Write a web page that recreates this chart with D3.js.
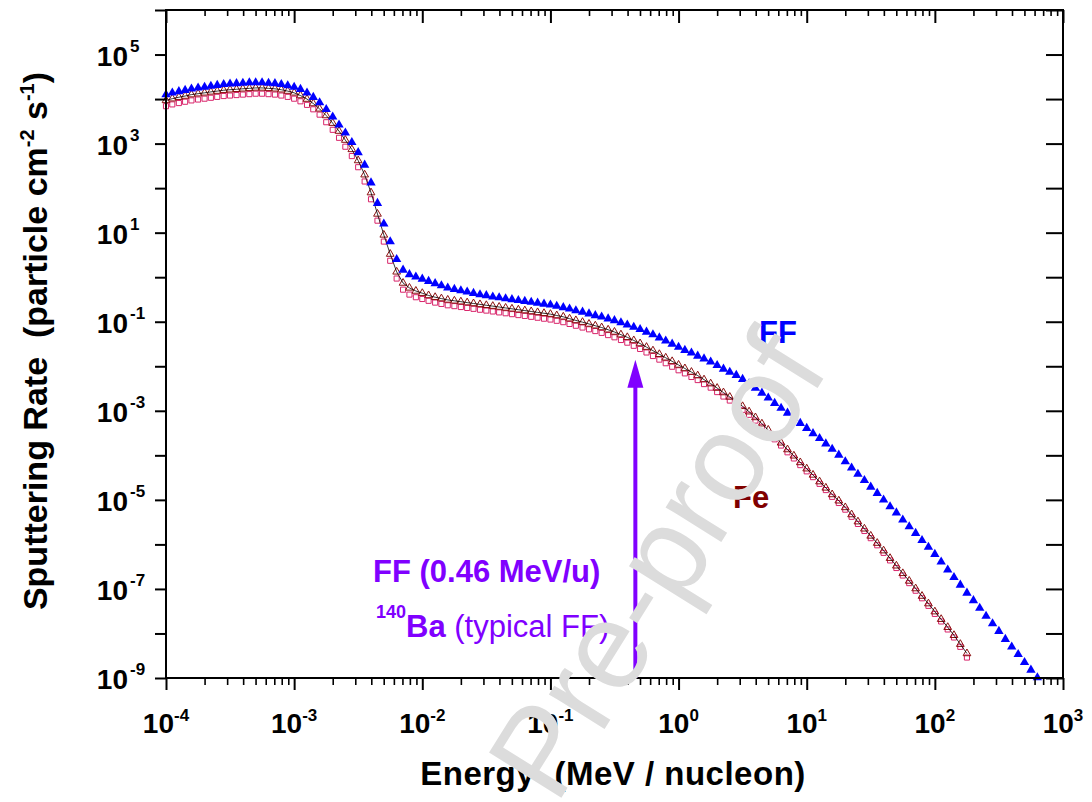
<!DOCTYPE html>
<html>
<head>
<meta charset="utf-8">
<script src="https://cdn.jsdelivr.net/npm/d3@7"></script>
<style>
  body { margin: 0; background: #fff; }
  text { font-family: "Liberation Sans", Arial, sans-serif; }
</style>
</head>
<body>
<div id="chart-area"></div>
<script>
// energy grid (MeV / nucleon), shared by all series
let energy = [
  1.00e-4, 1.12e-4, 1.26e-4, 1.41e-4, 1.58e-4, 1.78e-4, 2.00e-4, 2.24e-4, 2.51e-4, 2.82e-4,
  3.16e-4, 3.55e-4, 3.98e-4, 4.47e-4, 5.01e-4, 5.62e-4, 6.31e-4, 7.08e-4, 7.94e-4, 8.91e-4,
  1.00e-3, 1.12e-3, 1.26e-3, 1.41e-3, 1.58e-3, 1.78e-3, 2.00e-3, 2.24e-3, 2.51e-3, 2.82e-3,
  3.16e-3, 3.55e-3, 3.98e-3, 4.47e-3, 5.01e-3, 5.62e-3, 6.31e-3, 7.08e-3, 7.94e-3, 8.91e-3,
  1.00e-2, 1.12e-2, 1.26e-2, 1.41e-2, 1.58e-2, 1.78e-2, 2.00e-2, 2.24e-2, 2.51e-2, 2.82e-2,
  3.16e-2, 3.55e-2, 3.98e-2, 4.47e-2, 5.01e-2, 5.62e-2, 6.31e-2, 7.08e-2, 7.94e-2, 8.91e-2,
  1.00e-1, 1.12e-1, 1.26e-1, 1.41e-1, 1.58e-1, 1.78e-1, 2.00e-1, 2.24e-1, 2.51e-1, 2.82e-1,
  3.16e-1, 3.55e-1, 3.98e-1, 4.47e-1, 5.01e-1, 5.62e-1, 6.31e-1, 7.08e-1, 7.94e-1, 8.91e-1,
  1.00, 1.12, 1.26, 1.41, 1.58, 1.78, 2.00, 2.24, 2.51, 2.82,
  3.16, 3.55, 3.98, 4.47, 5.01, 5.62, 6.31, 7.08, 7.94, 8.91,
  10.0, 11.2, 12.6, 14.1, 15.8, 17.8, 20.0, 22.4, 25.1, 28.2,
  31.6, 35.5, 39.8, 44.7, 50.1, 56.2, 63.1, 70.8, 79.4, 89.1,
  100, 112, 126, 141, 158, 178, 200, 224, 251, 282,
  316, 355, 398, 447, 501, 562, 631
]

// FF (blue, filled triangles)
let rateFF = [
  1.26e4, 1.38e4, 1.48e4, 1.58e4, 1.70e4, 1.78e4, 1.86e4, 1.95e4, 2.04e4, 2.14e4,
  2.19e4, 2.24e4, 2.29e4, 2.34e4, 2.34e4, 2.34e4, 2.29e4, 2.24e4, 2.14e4, 2.00e4,
  1.86e4, 1.66e4, 1.38e4, 1.10e4, 8.32e3, 5.89e3, 3.98e3, 2.63e3, 1.74e3, 1.07e3,
  631, 331, 132, 45.7, 15.8, 6.31, 2.51, 1.45, 1.15, 1.02,
  0.912, 0.813, 0.724, 0.646, 0.575, 0.537, 0.501, 0.468, 0.437, 0.407,
  0.389, 0.363, 0.347, 0.331, 0.316, 0.302, 0.288, 0.275, 0.263, 0.251,
  0.240, 0.224, 0.209, 0.195, 0.178, 0.166, 0.151, 0.138, 0.129, 0.117,
  0.107, 0.0955, 0.0851, 0.0759, 0.0676, 0.0589, 0.0513, 0.0437, 0.0372, 0.0316,
  0.0269, 0.0229, 0.0200, 0.0170, 0.0148, 0.0126, 0.0105, 0.00871, 0.00741, 0.00631,
  0.00513, 0.00407, 0.00324, 0.00251, 0.00195, 0.00148, 0.00115, 8.91e-4, 6.92e-4, 5.25e-4,
  4.07e-4, 3.09e-4, 2.40e-4, 1.82e-4, 1.38e-4, 1.02e-4, 7.24e-5, 5.25e-5, 3.80e-5, 2.75e-5,
  1.95e-5, 1.41e-5, 1.00e-5, 7.08e-6, 5.13e-6, 3.55e-6, 2.51e-6, 1.78e-6, 1.23e-6, 8.71e-7,
  6.03e-7, 4.07e-7, 2.69e-7, 1.82e-7, 1.23e-7, 8.13e-8, 5.50e-8, 3.72e-8, 2.45e-8, 1.66e-8,
  1.12e-8, 7.41e-9, 5.01e-9, 3.39e-9, 2.24e-9, 1.51e-9, 1.02e-9
]

// Fe (dark red, open triangles)
let rateFeTri = [
  9.33e3, 1.02e4, 1.10e4, 1.17e4, 1.26e4, 1.32e4, 1.38e4, 1.45e4, 1.51e4, 1.58e4,
  1.62e4, 1.66e4, 1.70e4, 1.74e4, 1.78e4, 1.78e4, 1.74e4, 1.70e4, 1.62e4, 1.51e4,
  1.38e4, 1.20e4, 1.00e4, 7.94e3, 6.03e3, 4.27e3, 2.88e3, 1.91e3, 1.20e3, 741,
  417, 200, 79.4, 26.3, 8.91, 3.31, 1.32, 0.741, 0.575, 0.490,
  0.437, 0.389, 0.355, 0.331, 0.309, 0.295, 0.282, 0.269, 0.257, 0.245,
  0.234, 0.224, 0.214, 0.204, 0.195, 0.186, 0.178, 0.170, 0.162, 0.155,
  0.148, 0.138, 0.129, 0.117, 0.107, 0.0977, 0.0891, 0.0813, 0.0741, 0.0661,
  0.0589, 0.0513, 0.0447, 0.0380, 0.0324, 0.0269, 0.0224, 0.0186, 0.0155, 0.0129,
  0.0107, 0.00891, 0.00741, 0.00617, 0.00501, 0.00407, 0.00324, 0.00257, 0.00204, 0.00162,
  0.00126, 9.55e-4, 7.08e-4, 5.13e-4, 3.72e-4, 2.63e-4, 1.91e-4, 1.35e-4, 9.77e-5, 6.92e-5,
  5.01e-5, 3.63e-5, 2.57e-5, 1.86e-5, 1.32e-5, 9.55e-6, 6.76e-6, 4.68e-6, 3.24e-6, 2.24e-6,
  1.55e-6, 1.07e-6, 7.24e-7, 4.90e-7, 3.31e-7, 2.24e-7, 1.51e-7, 1.02e-7, 6.92e-8, 4.68e-8,
  3.09e-8, 2.09e-8, 1.38e-8, 9.12e-9, 5.75e-9, 3.55e-9
]

// Fe (crimson, open squares)
let rateFeSq = [
  6.92e3, 7.59e3, 8.13e3, 8.71e3, 9.33e3, 9.77e3, 1.02e4, 1.07e4, 1.12e4, 1.17e4,
  1.20e4, 1.23e4, 1.26e4, 1.29e4, 1.32e4, 1.32e4, 1.29e4, 1.26e4, 1.20e4, 1.12e4,
  1.02e4, 8.91e3, 7.41e3, 5.89e3, 4.47e3, 3.02e3, 2.04e3, 1.35e3, 851, 525,
  295, 141, 56.2, 18.6, 6.31, 2.34, 0.933, 0.525, 0.407, 0.355,
  0.324, 0.295, 0.269, 0.251, 0.234, 0.224, 0.214, 0.204, 0.195, 0.186,
  0.178, 0.170, 0.162, 0.155, 0.148, 0.141, 0.135, 0.129, 0.123, 0.117,
  0.112, 0.105, 0.0977, 0.0891, 0.0813, 0.0741, 0.0676, 0.0617, 0.0562, 0.0501,
  0.0447, 0.0389, 0.0339, 0.0288, 0.0245, 0.0204, 0.0170, 0.0141, 0.0117, 0.00977,
  0.00813, 0.00692, 0.00575, 0.00490, 0.00398, 0.00331, 0.00263, 0.00209, 0.00170, 0.00135,
  0.00105, 8.13e-4, 6.03e-4, 4.37e-4, 3.16e-4, 2.29e-4, 1.66e-4, 1.17e-4, 8.51e-5, 6.03e-5,
  4.37e-5, 3.24e-5, 2.29e-5, 1.66e-5, 1.17e-5, 8.51e-6, 6.03e-6, 4.17e-6, 2.88e-6, 2.00e-6,
  1.38e-6, 9.55e-7, 6.46e-7, 4.37e-7, 2.95e-7, 2.00e-7, 1.35e-7, 9.12e-8, 6.17e-8, 4.17e-8,
  2.75e-8, 1.86e-8, 1.23e-8, 8.13e-9, 5.01e-9, 2.88e-9
]

// axis decades
let xDecades = [-4, -3, -2, -1, 0, 1, 2, 3]
let yDecades = [-9, -8, -7, -6, -5, -4, -3, -2, -1, 0, 1, 2, 3, 4, 5, 6]
let yLabelDecades = [5, 3, 1, -1, -3, -5, -7, -9]

// fission fragment marker
let arrowEnergy = 0.46
let arrowTipRate = 0.014

let svgW = 1092
let svgH = 802
let plot = { left: 166, right: 1063, top: 10, bottom: 678 }

let x = d3.scaleLog().domain([1e-4, 1e3]).range([plot.left, plot.right])
let y = d3.scaleLog().domain([1e-9, 1e6]).range([plot.bottom, plot.top])

let svg = d3.select("#chart-area")
  .append("svg")
  .attr("width", svgW)
  .attr("height", svgH)

const toPoints = (rates) => rates.map((r, i) => ({ e: energy[i], r: r }))

let ff = toPoints(rateFF)
let feTri = toPoints(rateFeTri)
let feSq = toPoints(rateFeSq)

// markers
let sq = d3.symbol().type(d3.symbolSquare).size(26)
let tri = d3.symbol().type(d3.symbolTriangle).size(26)
let triFF = d3.symbol().type(d3.symbolTriangle).size(38)

svg.append("g").selectAll("path")
  .data(feSq)
  .enter().append("path")
  .attr("d", sq)
  .attr("transform", d => `translate(${x(d.e)},${y(d.r)})`)
  .attr("fill", "none")
  .attr("stroke", "#d8246a")
  .attr("stroke-width", 1)

svg.append("g").selectAll("path")
  .data(feTri)
  .enter().append("path")
  .attr("d", tri)
  .attr("transform", d => `translate(${x(d.e)},${y(d.r)})`)
  .attr("fill", "none")
  .attr("stroke", "#8b1010")
  .attr("stroke-width", 1)

svg.append("path")
  .datum(feTri)
  .attr("d", d3.line().x(d => x(d.e)).y(d => y(d.r)))
  .attr("fill", "none")
  .attr("stroke", "#000")
  .attr("stroke-width", 0.8)

svg.append("g").selectAll("path")
  .data(ff)
  .enter().append("path")
  .attr("d", triFF)
  .attr("transform", d => `translate(${x(d.e)},${y(d.r)})`)
  .attr("fill", "#0000ff")

// axes: ticks only, frame drawn separately
let majorX = xDecades.map(p => Math.pow(10, p))
let minorX = x.ticks().filter(v => !majorX.some(m => Math.abs(m - v) / m < 1e-6))
let majorY = yDecades.map(p => Math.pow(10, p))
let minorY = y.ticks().filter(v => !majorY.some(m => Math.abs(m - v) / m < 1e-6))

const tickAxis = (axis, values, size, width, tx, ty) => {
  let g = svg.append("g")
    .attr("transform", `translate(${tx},${ty})`)
    .call(axis.tickValues(values).tickSize(size).tickFormat(""))
  g.select(".domain").remove()
  g.selectAll("line").attr("stroke", "#000").attr("stroke-width", width)
}

tickAxis(d3.axisBottom(x), majorX, 12, 2, 0, plot.bottom)
tickAxis(d3.axisBottom(x), minorX, 7, 1.6, 0, plot.bottom)
tickAxis(d3.axisBottom(x), majorX, 13, 2, 0, plot.top)
tickAxis(d3.axisBottom(x), minorX, 6, 1.6, 0, plot.top)
tickAxis(d3.axisLeft(y), majorY, 11, 2, plot.left, 0)
tickAxis(d3.axisLeft(y), minorY, 6, 1.6, plot.left, 0)
tickAxis(d3.axisLeft(y), majorY, 17, 2, plot.right, 0)
tickAxis(d3.axisLeft(y), minorY, 6, 1.6, plot.right, 0)

svg.append("rect")
  .attr("x", plot.left)
  .attr("y", plot.top)
  .attr("width", plot.right - plot.left)
  .attr("height", plot.bottom - plot.top)
  .attr("fill", "none")
  .attr("stroke", "#000")
  .attr("stroke-width", 2)

// tick labels
let xLabels = svg.append("g").selectAll("text")
  .data(xDecades)
  .enter().append("text")
  .attr("x", d => x(Math.pow(10, d)))
  .attr("y", 733)
  .attr("text-anchor", "middle")
  .attr("font-weight", "bold")
  .attr("font-size", 28)
xLabels.append("tspan").text("10")
xLabels.append("tspan").attr("dy", -12).attr("font-size", 17).text(d => d)

let yLabels = svg.append("g").selectAll("g")
  .data(yLabelDecades)
  .enter().append("g")
  .attr("transform", d => `translate(0,${y(Math.pow(10, d))})`)
yLabels.append("text")
  .attr("x", 128)
  .attr("y", 11)
  .attr("text-anchor", "end")
  .attr("font-weight", "bold")
  .attr("font-size", 28)
  .text("10")
yLabels.append("text")
  .attr("x", 130)
  .attr("y", -3)
  .attr("font-weight", "bold")
  .attr("font-size", 17)
  .text(d => d)

// axis titles
svg.append("text")
  .attr("x", 613)
  .attr("y", 785)
  .attr("text-anchor", "middle")
  .attr("font-weight", "bold")
  .attr("font-size", 33)
  .attr("letter-spacing", 0.5)
  .style("white-space", "pre")
  .text("Energy  (MeV / nucleon)")

let yTitle = svg.append("text")
  .attr("transform", "translate(47,341) rotate(-90)")
  .attr("text-anchor", "middle")
  .attr("font-weight", "bold")
  .attr("font-size", 34)
  .style("white-space", "pre")
yTitle.append("tspan").text("Sputtering Rate  (particle cm")
yTitle.append("tspan").attr("dy", -13).attr("font-size", 20).text("-2")
yTitle.append("tspan").attr("dy", 13).text(" s")
yTitle.append("tspan").attr("dy", -13).attr("font-size", 20).text("-1")
yTitle.append("tspan").attr("dy", 13).text(")")

// series labels
svg.append("text")
  .attr("x", 759).attr("y", 343)
  .attr("font-weight", "bold").attr("font-size", 31)
  .attr("fill", "#0000ff")
  .text("FF")

svg.append("text")
  .attr("x", 733).attr("y", 508)
  .attr("font-weight", "bold").attr("font-size", 31)
  .attr("fill", "#800000")
  .text("Fe")

// arrow at the typical fission fragment energy
let purple = "#8000ff"
let ax = x(arrowEnergy)
let tipY = y(arrowTipRate)
svg.append("line")
  .attr("x1", ax).attr("x2", ax)
  .attr("y1", plot.bottom).attr("y2", tipY + 20)
  .attr("stroke", purple)
  .attr("stroke-width", 4)
svg.append("path")
  .attr("d", `M${ax},${tipY} L${ax - 8},${tipY + 28} L${ax + 8},${tipY + 28} Z`)
  .attr("fill", purple)

svg.append("text")
  .attr("x", 373).attr("y", 582)
  .attr("font-weight", "bold").attr("font-size", 31)
  .attr("fill", purple)
  .style("white-space", "pre")
  .text("FF (0.46 MeV/u)")

let ba = svg.append("text")
  .attr("x", 376).attr("y", 637)
  .attr("fill", purple)
  .style("white-space", "pre")
ba.append("tspan").attr("dy", -19).attr("font-size", 18).attr("font-weight", "bold").text("140")
ba.append("tspan").attr("dy", 19).attr("font-size", 31).attr("font-weight", "bold").text("Ba")
ba.append("tspan").attr("font-size", 31).text(" (typical FF)")

// watermark
svg.append("text")
  .attr("transform", "translate(830,368) rotate(-58)")
  .attr("text-anchor", "end")
  .attr("font-size", 124)
  .attr("fill", "#dcdcdc")
  .text("Pre-proof")
</script>
</body>
</html>
